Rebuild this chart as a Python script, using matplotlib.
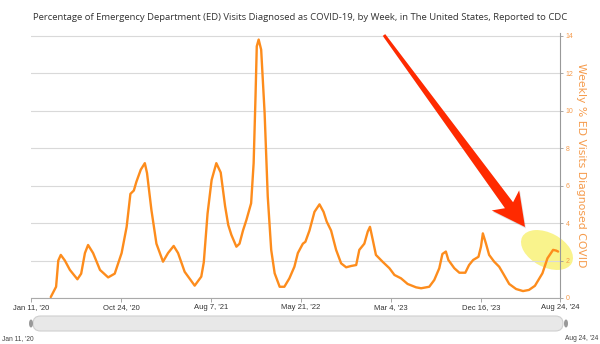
import numpy as np
import pandas as pd
import matplotlib
matplotlib.use('Agg')
import matplotlib.pyplot as plt
from matplotlib.patches import Polygon, Ellipse, FancyBboxPatch

# weekly % of ED visits diagnosed as COVID-19
week = ['2020-03-14','2020-03-31','2020-04-07','2020-04-15','2020-04-28','2020-05-14','2020-06-07','2020-06-19',
        '2020-07-01','2020-07-11','2020-07-27','2020-08-18','2020-09-13','2020-10-04','2020-10-26','2020-11-11',
        '2020-11-23','2020-12-04','2020-12-12','2020-12-26',
        '2021-01-08','2021-01-15','2021-01-29','2021-02-14','2021-03-07','2021-03-23','2021-04-10','2021-04-24',
        '2021-05-15','2021-06-16','2021-07-07','2021-07-15','2021-07-27','2021-08-09','2021-08-24','2021-09-07',
        '2021-09-21','2021-10-01','2021-10-11','2021-10-27','2021-11-06','2021-11-17','2021-11-28','2021-12-13',
        '2021-12-21','2021-12-27','2021-12-31',
        '2022-01-06','2022-01-14','2022-01-25','2022-02-04','2022-02-15','2022-02-26','2022-03-14','2022-03-29',
        '2022-04-14','2022-04-30','2022-05-11','2022-05-27','2022-06-04','2022-06-17','2022-07-03','2022-07-19',
        '2022-08-01','2022-08-11','2022-08-25','2022-09-10','2022-09-26','2022-10-12','2022-10-28','2022-11-13',
        '2022-11-23','2022-12-09','2022-12-20','2022-12-27',
        '2023-01-05','2023-01-15','2023-02-05','2023-02-27','2023-03-15','2023-04-05','2023-04-26','2023-05-23',
        '2023-06-08','2023-07-04','2023-07-20','2023-08-05','2023-08-15','2023-08-26','2023-09-03','2023-09-22',
        '2023-10-08','2023-10-27','2023-11-08','2023-11-21','2023-12-08','2023-12-16','2023-12-22',
        '2024-01-01','2024-01-11','2024-01-27','2024-02-12','2024-02-25','2024-03-15','2024-04-06','2024-04-28',
        '2024-05-17','2024-06-05','2024-06-29','2024-07-15','2024-08-02','2024-08-12','2024-08-18']
pct = [0.05, 0.6, 2.0, 2.3, 2.0, 1.5, 1.0, 1.3, 2.4, 2.83, 2.4, 1.5, 1.1, 1.3, 2.4, 3.8, 5.56, 5.74, 6.2, 6.85,
       7.2, 6.67, 4.7, 2.9, 1.94, 2.4, 2.78, 2.4, 1.4, 0.66, 1.14, 1.9, 4.5, 6.3, 7.2, 6.7, 4.9, 3.9, 3.37, 2.74,
       2.9, 3.6, 4.17, 5.06, 7.2, 10.77, 13.44,
       13.8, 13.26, 9.88, 5.42, 2.57, 1.32, 0.6, 0.6, 1.05, 1.67, 2.4, 2.9, 3.0, 3.6, 4.6, 5.0, 4.6, 4.08, 3.6,
       2.57, 1.85, 1.64, 1.71, 1.76, 2.57, 2.9, 3.55, 3.8,
       3.1, 2.3, 1.94, 1.59, 1.23, 1.05, 0.75, 0.57, 0.52, 0.6, 0.96, 1.59, 2.35, 2.48, 2.03, 1.59, 1.35, 1.35,
       1.76, 2.03, 2.2, 2.74, 3.45,
       2.9, 2.3, 1.94, 1.67, 1.3, 0.75, 0.48, 0.37, 0.43, 0.65, 1.32, 2.12, 2.57, 2.53, 2.48]

tick_dates = ['2020-01-11','2020-10-24','2021-08-07','2022-05-21','2023-03-04','2023-12-16','2024-08-24']
tick_labels = ["Jan 11, '20","Oct 24, '20","Aug 7, '21","May 21, '22","Mar 4, '23","Dec 16, '23","Aug 24, '24"]
y_ticks = [0, 2, 4, 6, 8, 10, 12, 14]
title = 'Percentage of Emergency Department (ED) Visits Diagnosed as COVID-19, by Week, in The United States, Reported to CDC'
ylabel = 'Weekly % ED Visits Diagnosed COVID'

line_c = '#fd8c1c'
axis_c = '#f59b4c'

x = pd.to_datetime(week)
xt = pd.to_datetime(tick_dates)

fig = plt.figure(figsize=(6, 3.44), dpi=100)

# pixel overlay behind the chart (yellow highlight)
back = fig.add_axes([0, 0, 1, 1], zorder=0)
back.set_xlim(0, 600); back.set_ylim(344, 0); back.axis('off')
back.add_patch(Ellipse((547, 250), 56, 34, angle=28, color='#f9f38c', lw=0))

ax = fig.add_axes([31/600, 1-298/344, 529/600, 265/344], zorder=1)
ax.patch.set_visible(False)
ax.plot(x, pct, color=line_c, lw=1.7, solid_joinstyle='round', solid_capstyle='round', clip_on=False)
ax.set_xlim(xt[0], xt[-1])
ax.set_ylim(0, 14.15)
ax.set_yticks(y_ticks)
ax.yaxis.tick_right()
ax.yaxis.set_label_position('right')
ax.set_xticks(xt)
ax.set_xticklabels(tick_labels, fontsize=5.5, color='#333333', family='Liberation Sans')
ax.tick_params(axis='x', length=3, width=0.6, color='#999999', pad=1.5)
ax.tick_params(axis='y', length=2.5, width=0.6, color='#999999', labelcolor=axis_c, labelsize=5, pad=1.5)
for t in ax.get_yticklabels():
    t.set_family('Liberation Sans')
ax.set_ylabel(ylabel, rotation=270, color=axis_c, fontsize=7.8, family='DejaVu Sans', labelpad=9)
ax.grid(axis='y', color='#d9d9d9', lw=0.8)
ax.set_axisbelow(True)
for s in ['top', 'left']:
    ax.spines[s].set_visible(False)
ax.spines['right'].set_color('#999999')
ax.spines['bottom'].set_color('#aaaaaa')
ax.spines['right'].set_linewidth(0.8)
ax.spines['bottom'].set_linewidth(0.8)

fig.text(0.5, 1-17/344, title, ha='center', va='center', fontsize=6.8, color='#333333', family='Open Sans')

# front overlay: arrow annotation and navigator bar
front = fig.add_axes([0, 0, 1, 1], zorder=2)
front.set_xlim(0, 600); front.set_ylim(344, 0); front.axis('off')

tail = np.array([384.0, 35.0])
tip = np.array([525.0, 227.0])
u = (tip - tail) / np.linalg.norm(tip - tail)
n = np.array([u[1], -u[0]])
base = tip - 33 * u
neck = base + 6 * u
arrow = [tail + 1.5*n, neck + 5*n, base + 17*n, tip, base - 17*n, neck - 5*n, tail - 1.5*n]
front.add_patch(Polygon([p + np.array([1.0, 1.5]) for p in arrow], closed=True, color='#000000', alpha=0.12, lw=0))
front.add_patch(Polygon(arrow, closed=True, color='#ff2a00', lw=0))

front.add_patch(FancyBboxPatch((33, 316), 530, 15, boxstyle='round,pad=0,rounding_size=7.5',
                               fc='#e8e8e8', ec='#cfcfcf', lw=0.8))
front.add_patch(Ellipse((31, 323.5), 4, 8, color='#999999', lw=0))
front.add_patch(Ellipse((566, 323.5), 4, 8, color='#999999', lw=0))
front.text(2, 339, tick_labels[0], fontsize=4.8, color='#444444', ha='left', va='center', family='Liberation Sans')
front.text(598, 339, tick_labels[-1], fontsize=4.8, color='#444444', ha='right', va='center', family='Liberation Sans')

fig.savefig('out.png', dpi=100)
